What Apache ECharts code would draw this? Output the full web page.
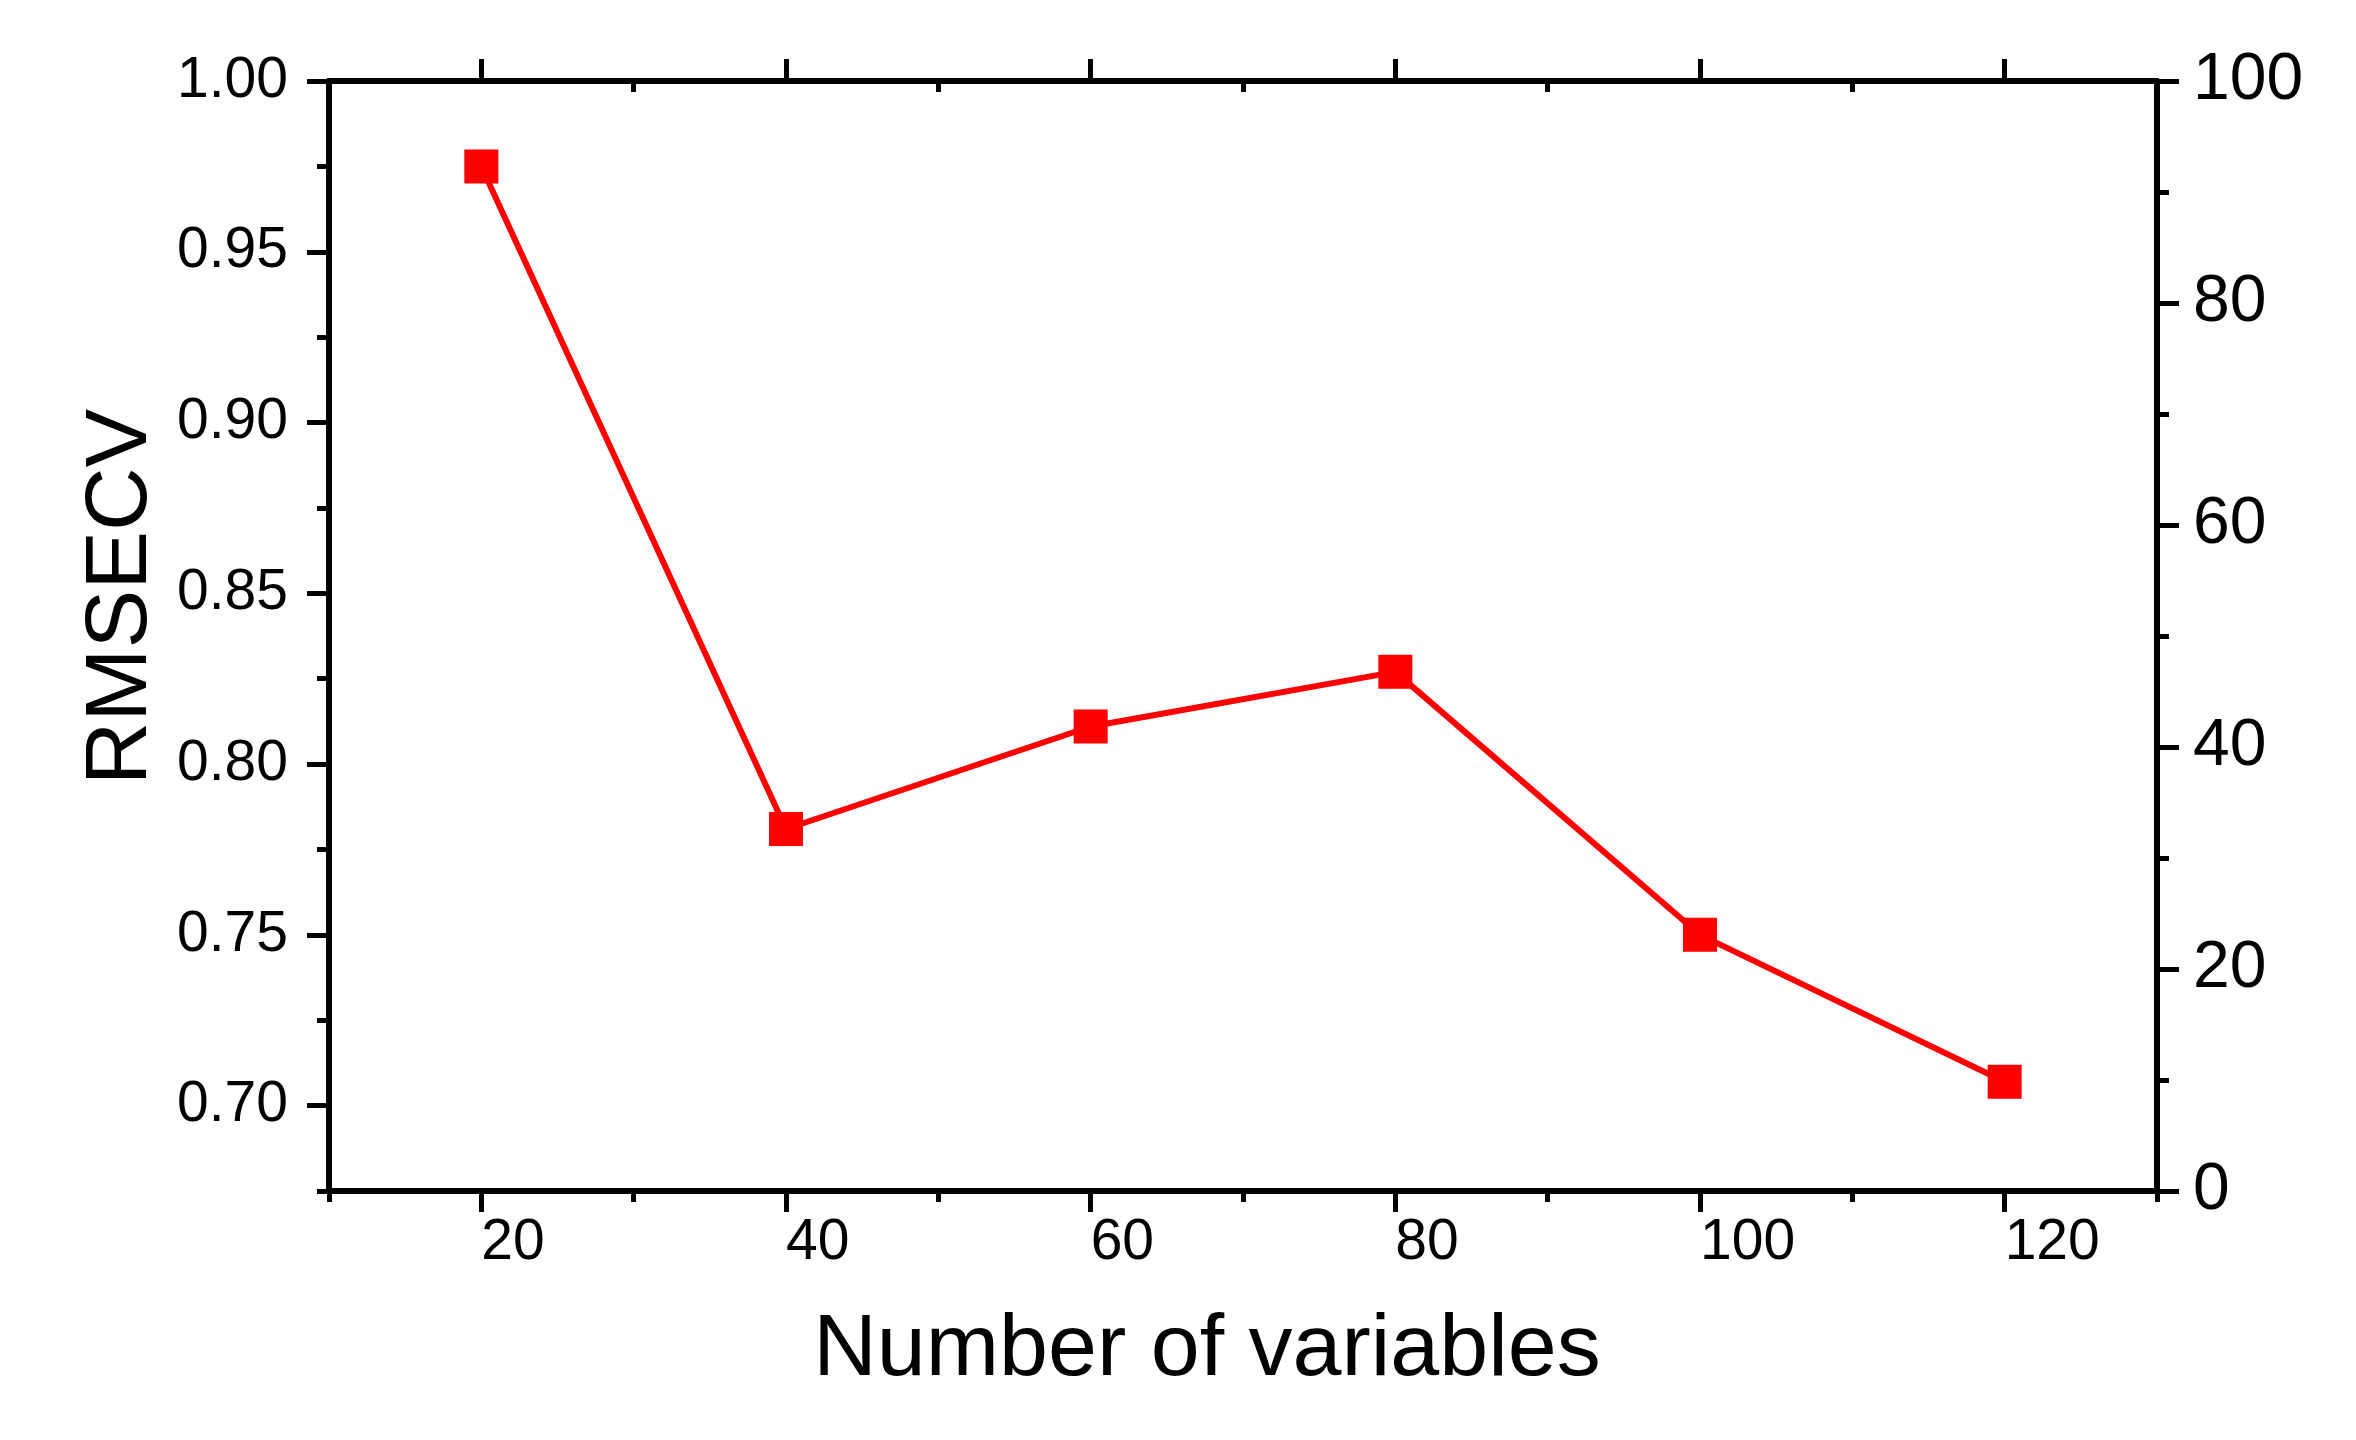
<!DOCTYPE html>
<html>
<head>
<meta charset="utf-8">
<script src="https://cdn.jsdelivr.net/npm/echarts@6/dist/echarts.min.js"></script>
<style>
html,body{margin:0;padding:0;background:#fff;}
#chart{width:2356px;height:1440px;}
</style>
</head>
<body>
<div id="chart"></div>
<script>
// ---- data ----
const numVariables = [20, 40, 60, 80, 100, 120];
const rmsecv = [0.975, 0.781, 0.811, 0.827, 0.750, 0.707];

// ---- tick labels ----
const xMajorTicks = [20, 40, 60, 80, 100, 120];
const xMinorTicks = [10, 30, 50, 70, 90, 110, 130];
const yMajorTicks = [0.70, 0.75, 0.80, 0.85, 0.90, 0.95, 1.00];
const yMinorTicks = [0.675, 0.725, 0.775, 0.825, 0.875, 0.925, 0.975];
const xTitle = 'Number of variables';
const yTitle = 'RMSECV';

const FONT = "'Liberation Sans', Arial, sans-serif";
const BLACK = '#000';

const chart = echarts.init(document.getElementById('chart'), null, {renderer: 'canvas'});

function hiddenLabel() { return {show: false}; }

const option = {
  backgroundColor: '#fff',
  animation: false,
  grid: {left: 329, top: 81, width: 1828, height: 1110, containLabel: false},
  xAxis: [
    {
      type: 'value', position: 'bottom', min: 10, max: 130,
      axisLine: {show: true, lineStyle: {color: BLACK, width: 6}},
      axisTick: {show: true, inside: false, length: 21, lineStyle: {color: BLACK, width: 5}, customValues: xMajorTicks},
      axisLabel: {show: true, customValues: xMajorTicks, align: 'left', margin: 24,
        fontFamily: FONT, fontSize: 57, color: BLACK},
      splitLine: {show: false},
      name: xTitle, nameLocation: 'middle', nameGap: 116,
      nameTextStyle: {fontFamily: FONT, fontSize: 88, color: BLACK, padding: [0, 72, 0, 0]}
    },
    {
      type: 'value', position: 'bottom', min: 10, max: 130,
      axisLine: {show: false},
      axisTick: {show: true, inside: false, length: 11, lineStyle: {color: BLACK, width: 5}, customValues: xMinorTicks},
      axisLabel: hiddenLabel(),
      splitLine: {show: false}
    },
    {
      type: 'value', position: 'top', min: 10, max: 130,
      axisLine: {show: true, lineStyle: {color: BLACK, width: 6}},
      axisTick: {show: true, inside: false, length: 22, lineStyle: {color: BLACK, width: 5}, customValues: xMajorTicks},
      axisLabel: hiddenLabel(),
      splitLine: {show: false}
    },
    {
      type: 'value', position: 'top', min: 10, max: 130,
      axisLine: {show: false},
      axisTick: {show: true, inside: true, length: 11, lineStyle: {color: BLACK, width: 5}, customValues: xMinorTicks},
      axisLabel: hiddenLabel(),
      splitLine: {show: false}
    }
  ],
  yAxis: [
    {
      type: 'value', position: 'left', min: 0.675, max: 1.0,
      axisLine: {show: true, lineStyle: {color: BLACK, width: 6}},
      axisTick: {show: true, inside: false, length: 22, lineStyle: {color: BLACK, width: 5}, customValues: yMajorTicks},
      axisLabel: {show: true, customValues: yMajorTicks, margin: 41,
        formatter: v => Number(v).toFixed(2),
        fontFamily: FONT, fontSize: 57, color: BLACK},
      splitLine: {show: false},
      name: yTitle, nameLocation: 'middle', nameGap: 158,
      nameTextStyle: {fontFamily: FONT, fontSize: 88, color: BLACK, padding: [0, 0, 0, 78]}
    },
    {
      type: 'value', position: 'left', min: 0.675, max: 1.0,
      axisLine: {show: false},
      axisTick: {show: true, inside: false, length: 12, lineStyle: {color: BLACK, width: 5}, customValues: yMinorTicks},
      axisLabel: hiddenLabel(),
      splitLine: {show: false}
    },
    {
      type: 'value', position: 'right', min: 0, max: 100, interval: 20,
      axisLine: {show: true, lineStyle: {color: BLACK, width: 6}},
      axisTick: {show: true, inside: false, length: 22, lineStyle: {color: BLACK, width: 5}},
      minorTick: {show: true, splitNumber: 2, length: 12, lineStyle: {color: BLACK, width: 5}},
      axisLabel: {show: true, margin: 36, fontFamily: FONT, fontSize: 66, color: BLACK},
      splitLine: {show: false},
      minorSplitLine: {show: false}
    }
  ],
  series: [
    {
      type: 'line',
      xAxisIndex: 0, yAxisIndex: 0,
      data: numVariables.map((x, i) => [x, rmsecv[i]]),
      symbol: 'rect', symbolSize: 34,
      itemStyle: {color: '#ff0000'},
      lineStyle: {color: '#ff0000', width: 6},
      clip: false
    }
  ]
};

chart.setOption(option);
</script>
</body>
</html>
